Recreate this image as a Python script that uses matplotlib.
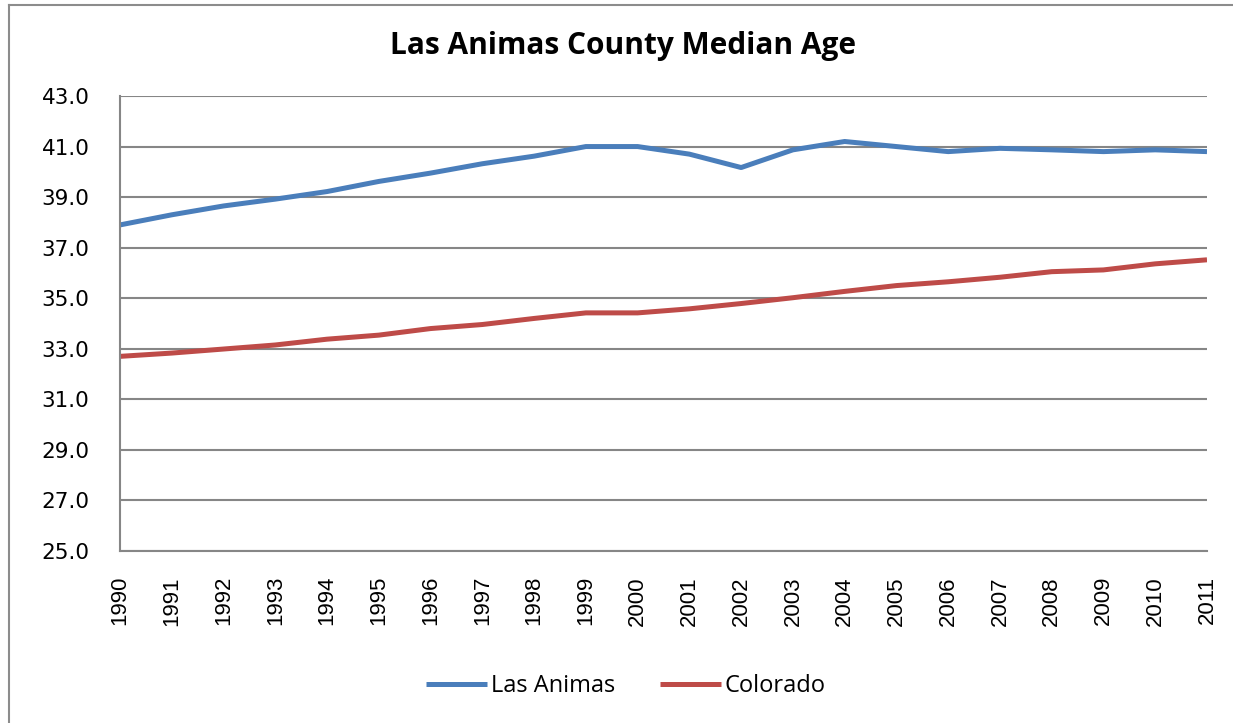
import numpy as np
import matplotlib.pyplot as plt
from matplotlib.lines import Line2D

years = list(range(1990, 2012))
las_animas = [37.9, 38.3, 38.65, 38.92, 39.22, 39.62, 39.95, 40.32, 40.62, 41.0, 41.0,
              40.7, 40.17, 40.87, 41.2, 41.0, 40.8, 40.93, 40.87, 40.8, 40.87, 40.8]
colorado = [32.7, 32.83, 32.99, 33.15, 33.38, 33.54, 33.8, 33.96, 34.2, 34.42, 34.42,
            34.58, 34.79, 35.02, 35.27, 35.5, 35.65, 35.83, 36.05, 36.12, 36.36, 36.52]
y_ticks = np.arange(25, 44, 2)

grid_col = '#868686'

fig = plt.figure(figsize=(12.33, 7.23), dpi=100)
ax = fig.add_axes([120 / 1233, 1 - 551 / 723, 1087 / 1233, 455 / 723])

x = np.arange(len(years))
ax.plot(x, las_animas, color='#4A7EBB', lw=3.6, label='Las Animas', solid_capstyle='butt')
ax.plot(x, colorado, color='#BE4B48', lw=3.6, label='Colorado', solid_capstyle='butt')

ax.set_xlim(0, len(years) - 1)
ax.set_ylim(25, 43)
ax.set_yticks(y_ticks)
ax.set_yticklabels([f'{v:.1f}' for v in y_ticks], fontsize=15.5, family='DejaVu Sans')
ax.set_xticks(x)
ax.set_xticklabels([str(y) for y in years], rotation=90, fontsize=16,
                   family='Liberation Sans')
ax.tick_params(axis='y', length=0, pad=22)
ax.tick_params(axis='x', length=0, pad=18)

ax.grid(axis='y', color=grid_col, lw=1.5)
ax.set_axisbelow(True)
for s in ['top', 'right']:
    ax.spines[s].set_visible(False)
for s in ['left', 'bottom']:
    ax.spines[s].set_color(grid_col)
    ax.spines[s].set_linewidth(1.5)

fig.text(623 / 1233, 1 - 46 / 723, 'Las Animas County Median Age', ha='center', va='center',
         fontsize=21.5, fontweight='bold', family='Open Sans')

leg = fig.legend(loc='center', bbox_to_anchor=(626 / 1233, 1 - 686 / 723), ncol=2,
                 frameon=False, prop={'family': 'Open Sans', 'size': 17},
                 handlelength=2.6, handletextpad=0.15, columnspacing=1.9)

# outer chart border
fig.add_artist(Line2D([8.5 / 1233, 8.5 / 1233], [0, 1 - 4.5 / 723], color='#8c8c8c', lw=1.5,
                      transform=fig.transFigure))
fig.add_artist(Line2D([8.5 / 1233, 1], [1 - 4.5 / 723, 1 - 4.5 / 723], color='#8c8c8c', lw=1.5,
                      transform=fig.transFigure))

fig.savefig('out.png', dpi=100)
